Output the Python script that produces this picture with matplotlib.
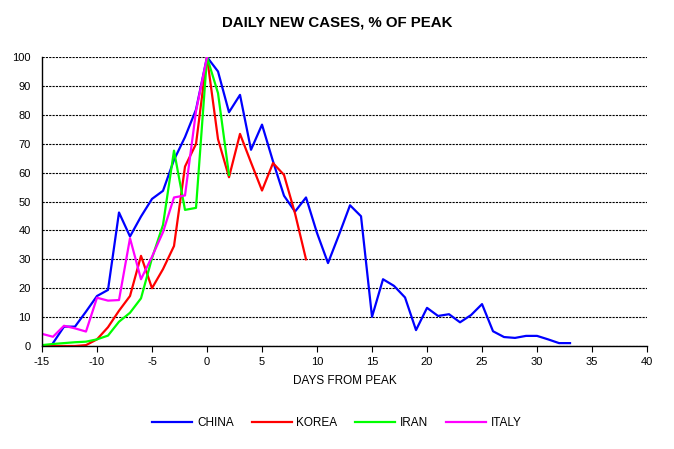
import numpy as np
import matplotlib
matplotlib.use('Agg')
import matplotlib.pyplot as plt

plt.rcParams['font.family'] = ['Liberation Sans', 'DejaVu Sans']
plt.rcParams['axes.unicode_minus'] = False

# Values (% of peak daily new cases)
china_days = list(range(-14, 34))
china = [1, 6.7, 6.7, 11.9, 17.3, 19.4, 46.2, 37.9, 44.8, 50.9, 53.7, 64.4, 72.3, 81.8,
         100, 95.0, 80.9, 86.9, 67.9, 76.6, 63.9, 52.0, 46.5, 51.4, 39.1, 28.7, 38.5,
         48.7, 44.9, 10.1, 23.1, 20.8, 16.8, 5.5, 13.2, 10.4, 11.0, 8.2, 10.7, 14.5,
         5.1, 3.1, 2.8, 3.5, 3.5, 2.3, 1.0, 1.0]

korea_days = list(range(-15, 10))
korea = [0, 0, 0, 0, 0.3, 2.3, 6.5, 12.2, 17.3, 31.2, 20.0, 26.6, 34.6, 62.1, 69.9,
         100, 71.6, 58.4, 73.4, 63.5, 53.8, 63.3, 59.2, 45.9, 30.0]

iran_days = list(range(-15, 3))
iran = [0.3, 0.7, 1.0, 1.3, 1.5, 2.3, 3.6, 8.4, 11.5, 16.5, 30.4, 41.9, 67.6, 47.1,
        47.8, 100, 87.5, 59.2]

italy_days = list(range(-15, 1))
italy = [4.2, 3.2, 7.0, 6.1, 5.0, 16.7, 15.7, 15.9, 37.3, 23.1, 30.9, 39.4, 51.4,
         52.1, 81.2, 100]

fig = plt.figure(figsize=(6.74, 4.49), dpi=100)
ax = fig.add_axes([0.0623, 0.2294, 0.8977, 0.6436])

ax.plot(china_days, china, color='#0000ff', lw=1.6, label='CHINA')
ax.plot(korea_days, korea, color='#ff0000', lw=1.6, label='KOREA')
ax.plot(iran_days, iran, color='#00ff00', lw=1.6, label='IRAN')
ax.plot(italy_days, italy, color='#ff00ff', lw=1.6, label='ITALY')

ax.set_xlim(-15, 40)
ax.set_ylim(0, 100)
ax.set_xticks(range(-15, 41, 5))
ax.set_yticks(range(0, 101, 10))
ax.yaxis.grid(True, color='black', linestyle=(0, (2, 1)), lw=0.8)
ax.set_axisbelow(True)

for s in ['top', 'right']:
    ax.spines[s].set_visible(False)
ax.spines['left'].set_linewidth(1)
ax.spines['bottom'].set_linewidth(1)
ax.tick_params(axis='y', length=0, pad=8, labelsize=8)
ax.tick_params(axis='x', direction='out', length=4, labelsize=8, pad=4)

ax.set_xlabel('DAYS FROM PEAK', fontsize=8.5, labelpad=6)
fig.suptitle('DAILY NEW CASES, % OF PEAK', fontsize=10.8, fontweight='bold', y=0.965)

fig.legend(loc='center', bbox_to_anchor=(0.5, 0.058), ncol=4, frameon=False,
           fontsize=8.5, handlelength=3.4, handletextpad=0.4, columnspacing=1.5)

fig.savefig('out.png', dpi=100)
